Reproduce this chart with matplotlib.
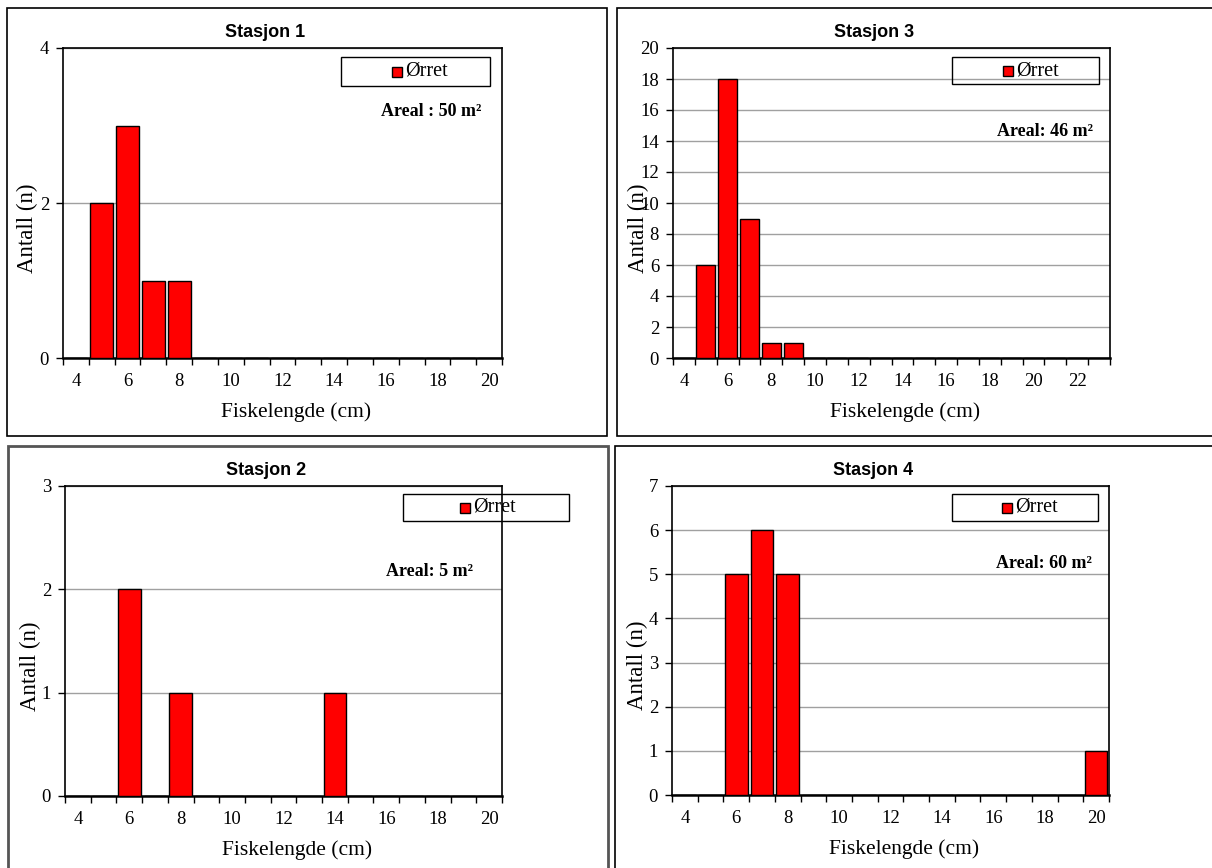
# -*- coding: utf-8 -*-

import numpy as np
from matplotlib import pyplot as plt
from matplotlib.patches import Rectangle

# lengths (cm) per panel and counts
len_1 = list(range(4, 21))
cnt_1 = [0, 2, 3, 1, 1, 0, 0, 0, 0, 0, 0, 0, 0, 0, 0, 0, 0]
len_3 = list(range(4, 24))
cnt_3 = [0, 6, 18, 9, 1, 1, 0, 0, 0, 0, 0, 0, 0, 0, 0, 0, 0, 0, 0, 0]
len_2 = list(range(4, 21))
cnt_2 = [0, 0, 2, 0, 1, 0, 0, 0, 0, 0, 1, 0, 0, 0, 0, 0, 0]
len_4 = list(range(4, 21))
cnt_4 = [0, 0, 5, 6, 5, 0, 0, 0, 0, 0, 0, 0, 0, 0, 0, 0, 1]

titles = ['Stasjon 1', 'Stasjon 3', 'Stasjon 2', 'Stasjon 4']
areal = ['Areal : 50 m²', 'Areal: 46 m²', 'Areal: 5 m²', 'Areal: 60 m²']
ymax = [4, 20, 3, 7]
ystep = [2, 2, 1, 1]

W, H = 1212, 868
fig = plt.figure(figsize=(W / 100, H / 100), dpi=100)

def px_axes(x0, y0, x1, y1):
    return fig.add_axes([x0 / W, 1 - y1 / H, (x1 - x0) / W, (y1 - y0) / H])

def px_box(x0, y0, x1, y1, color='black', lw=1.2):
    fig.patches.append(Rectangle((x0 / W, 1 - y1 / H), (x1 - x0) / W, (y1 - y0) / H,
                                 transform=fig.transFigure, fill=False,
                                 edgecolor=color, linewidth=lw))

# panel frames
px_box(7, 8, 607, 436)
px_box(617, 8, 1213, 436)
px_box(8, 446, 608, 870, color='#555555', lw=2)
px_box(615, 446, 1213, 870)

panels = [
    (len_1, cnt_1, (63, 48, 502, 358), (341, 57, 490, 86), (481, 112)),
    (len_3, cnt_3, (673, 48, 1110, 358), (952, 57, 1099, 84), (1093, 131)),
    (len_2, cnt_2, (65, 486, 502, 796), (403, 494, 569, 521), (473, 571)),
    (len_4, cnt_4, (672, 486, 1109, 795), (952, 494, 1098, 521), (1092, 564)),
]

serif = 'Liberation Serif'
for i, (lens, cnts, apos, lpos, tpos) in enumerate(panels):
    ax = px_axes(*apos)
    x = np.arange(len(lens))
    ax.bar(x, cnts, width=0.88, color='#ff0000', edgecolor='black', linewidth=1.0, zorder=3)
    ax.set_xlim(-0.5, len(lens) - 0.5)
    ax.set_ylim(0, ymax[i])
    ax.set_yticks(np.arange(0, ymax[i] + 0.1, ystep[i]))
    ax.yaxis.grid(True, color='#a0a0a0', linewidth=1.0, zorder=0)
    ax.set_axisbelow(True)
    # category labels every other, ticks between categories
    ax.set_xticks(x[::2])
    ax.set_xticklabels([str(v) for v in lens[::2]])
    ax.set_xticks(np.arange(-0.5, len(lens), 1.0), minor=True)
    ax.tick_params(axis='x', which='major', length=0, pad=11)
    ax.tick_params(axis='x', which='minor', length=5, direction='out', width=1)
    ax.tick_params(axis='y', length=5, direction='out', width=1, pad=5)
    for lab in ax.get_xticklabels() + ax.get_yticklabels():
        lab.set_fontfamily(serif)
        lab.set_fontsize(13.5)
    for s in ax.spines.values():
        s.set_linewidth(1.2)
    ax.spines['bottom'].set_linewidth(1.8)
    ax.set_xlabel('Fiskelengde (cm)', fontfamily=serif, fontsize=15.5, va='center')
    ax.xaxis.set_label_coords(0.53, -0.174)
    ax.set_ylabel('Antall (n)', fontfamily=serif, fontsize=16.5, va='center')
    ax.yaxis.set_label_coords(-0.08, 0.42)
    ax.set_title(titles[i], fontfamily='Liberation Sans', fontweight='bold', fontsize=13,
                 x=0.46, pad=8)
    # legend box
    lx0, ly0, lx1, ly1 = lpos
    px_box(lx0, ly0, lx1, ly1, lw=1.0)
    sx = lx0 + (lx1 - lx0) * 0.345
    fig.patches.append(Rectangle(((sx) / W, 1 - (ly0 + (ly1 - ly0) / 2 + 5) / H), 10 / W, 10 / H,
                                 transform=fig.transFigure, facecolor='#ff0000',
                                 edgecolor='black', linewidth=1.0))
    fig.text((sx + 13) / W, 1 - (ly0 + (ly1 - ly0) / 2) / H, 'Ørret',
             fontfamily=serif, fontsize=14.5, ha='left', va='center')
    fig.text(tpos[0] / W, 1 - tpos[1] / H, areal[i], fontfamily=serif,
             fontweight='bold', fontsize=13, ha='right', va='center')

fig.savefig('out.png', dpi=100)
